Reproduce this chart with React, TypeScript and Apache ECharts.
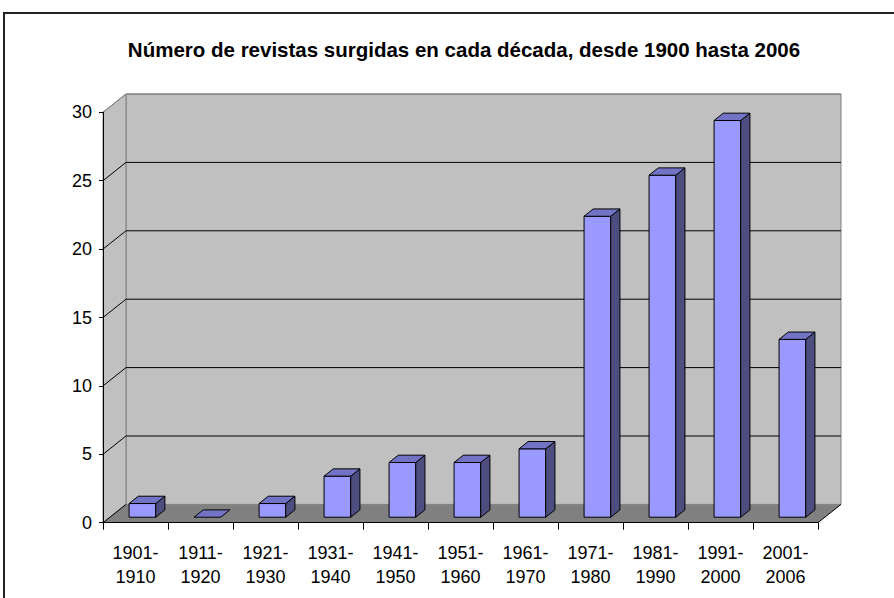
import React, { useEffect, useRef } from "react";
import * as echarts from "echarts";

const TITLE = "Número de revistas surgidas en cada década, desde 1900 hasta 2006";
const categories = [
  "1901-\n1910",
  "1911-\n1920",
  "1921-\n1930",
  "1931-\n1940",
  "1941-\n1950",
  "1951-\n1960",
  "1961-\n1970",
  "1971-\n1980",
  "1981-\n1990",
  "1991-\n2000",
  "2001-\n2006",
];
const values = [1, 0, 1, 3, 4, 4, 5, 22, 25, 29, 13];
const yTicks = [0, 5, 10, 15, 20, 25, 30];

const DX = 23;
const DY = -18.3;
const FONT = "'Liberation Sans', Arial, sans-serif";

export default function App() {
  const ref = useRef<HTMLDivElement>(null);

  useEffect(() => {
    document.body.style.margin = "0";
    if (!ref.current) return;
    const chart = echarts.init(ref.current, undefined, { renderer: "svg" });

    const wallsRender = (params: any, api: any) => {
      const cs = params.coordSys;
      const x0 = cs.x;
      const x1 = cs.x + cs.width;
      const yT = cs.y;
      const yB = cs.y + cs.height;
      const children: any[] = [];
      children.push({
        type: "rect",
        shape: { x: x0 + DX, y: yT + DY, width: cs.width, height: cs.height },
        style: { fill: "#C0C0C0", stroke: "#808080", lineWidth: 1 },
      });
      children.push({
        type: "polygon",
        shape: { points: [[x0, yT], [x0 + DX, yT + DY], [x0 + DX, yB + DY], [x0, yB]] },
        style: { fill: "#C0C0C0", stroke: "#808080", lineWidth: 1 },
      });
      children.push({
        type: "polygon",
        shape: { points: [[x0, yB], [x0 + DX, yB + DY], [x1 + DX, yB + DY], [x1, yB]] },
        style: { fill: "#808080", stroke: "none" },
      });
      children.push({
        type: "line",
        shape: { x1: x1, y1: yB, x2: x1 + DX, y2: yB + DY },
        style: { stroke: "#000", lineWidth: 1 },
      });
      children.push({
        type: "line",
        shape: { x1: x0, y1: yB, x2: x0 + DX, y2: yB + DY },
        style: { stroke: "#000", lineWidth: 1 },
      });
      yTicks.forEach((v) => {
        if (v === 0) return;
        const y = api.coord([0, v])[1];
        const col = v === 30 ? "#808080" : "#000";
        children.push({
          type: "line",
          shape: { x1: x0 + DX, y1: y + DY, x2: x1 + DX, y2: y + DY },
          style: { stroke: col, lineWidth: 1 },
        });
        children.push({
          type: "line",
          shape: { x1: x0, y1: y, x2: x0 + DX, y2: y + DY },
          style: { stroke: col, lineWidth: 1 },
        });
      });
      return { type: "group", children };
    };

    const barRender = (params: any, api: any) => {
      const i = api.value(0);
      const v = api.value(1);
      const base = api.coord([i, 0]);
      const top = api.coord([i, v]);
      const bw = api.size([1, 0])[0];
      const w = bw * 0.41;
      const f0 = 0.3;
      const fx = base[0] - w / 2 + f0 * DX;
      const yb = base[1] + f0 * DY;
      const yt = top[1] + f0 * DY;
      const ddx = 0.4 * DX;
      const ddy = 0.4 * DY;
      const edge = { stroke: "#000", lineWidth: 1, lineJoin: "round" };
      const children: any[] = [];
      if (yb - yt > 0.5) {
        children.push({
          type: "rect",
          shape: { x: fx, y: yt, width: w, height: yb - yt },
          style: { fill: "#9999FF", ...edge },
        });
        children.push({
          type: "polygon",
          shape: { points: [[fx + w, yt], [fx + w + ddx, yt + ddy], [fx + w + ddx, yb + ddy], [fx + w, yb]] },
          style: { fill: "#4D4D80", ...edge },
        });
      }
      children.push({
        type: "polygon",
        shape: { points: [[fx, yt], [fx + ddx, yt + ddy], [fx + w + ddx, yt + ddy], [fx + w, yt]] },
        style: { fill: "#7373C6", ...edge },
      });
      return { type: "group", children };
    };

    chart.setOption({
      animation: false,
      backgroundColor: "#fff",
      title: {
        text: TITLE,
        left: 459,
        textAlign: "center",
        top: 34,
        textStyle: {
          fontSize: 20.5,
          fontWeight: "bold",
          color: "#000",
          fontFamily: FONT,
        },
      },
      graphic: [
        {
          type: "rect",
          shape: { x: 4, y: 13, width: 900, height: 600 },
          style: { fill: "none", stroke: "#222", lineWidth: 2 },
          z: 100,
        },
      ],
      grid: { left: 103, right: 76, top: 112.3, bottom: 75.3, containLabel: false },
      xAxis: {
        type: "category",
        data: categories,
        z: 5,
        axisLine: { show: true, lineStyle: { color: "#000", width: 1 } },
        axisTick: { show: true, length: 7, interval: 0, lineStyle: { color: "#000" } },
        axisLabel: {
          interval: 0,
          margin: 19,
          fontSize: 18,
          lineHeight: 23.5,
          color: "#000",
          fontFamily: FONT,
        },
        splitLine: { show: false },
      },
      yAxis: {
        type: "value",
        min: 0,
        max: 30,
        interval: 5,
        z: 5,
        axisLine: { show: true, lineStyle: { color: "#000", width: 1 } },
        axisTick: { show: true, length: 4, lineStyle: { color: "#000" } },
        axisLabel: { margin: 11, fontSize: 18, color: "#000", fontFamily: FONT },
        splitLine: { show: false },
      },
      series: [
        {
          type: "custom",
          name: "walls",
          renderItem: wallsRender,
          data: [[0, 0]],
          clip: false,
          silent: true,
          z: 1,
        },
        {
          type: "custom",
          name: "Revistas",
          renderItem: barRender,
          data: values.map((v, i) => [i, v]),
          encode: { x: 0, y: 1 },
          clip: false,
          z: 3,
        },
      ],
    });

    return () => chart.dispose();
  }, []);

  return (
    <div
      ref={ref}
      style={{ position: "absolute", left: 0, top: 0, width: 894, height: 598 }}
    />
  );
}
